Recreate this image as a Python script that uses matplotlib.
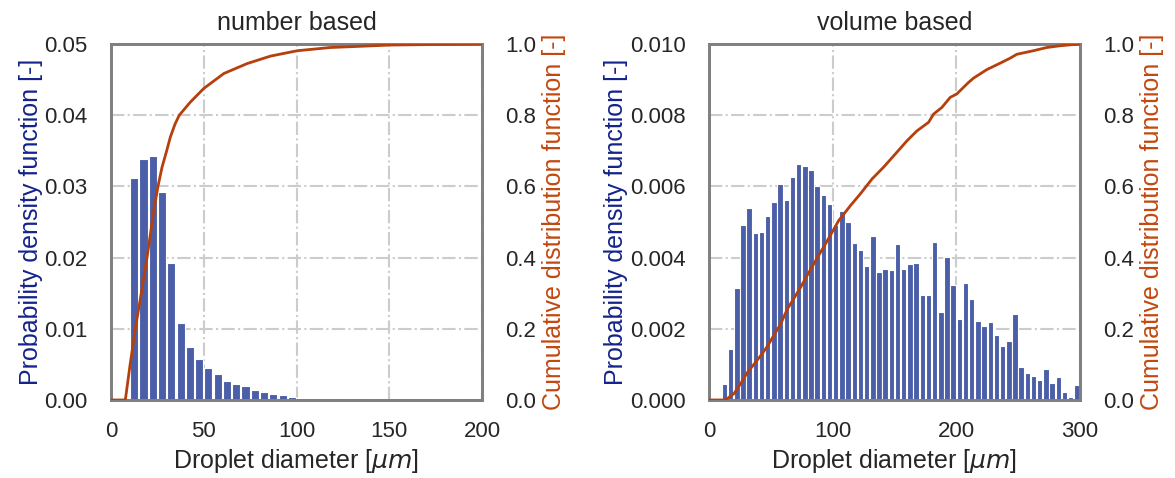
import numpy as np
import matplotlib
matplotlib.use('Agg')
import matplotlib.pyplot as plt
import seaborn as sns

sns.set_style('whitegrid')
plt.rcParams['font.family'] = ['Liberation Sans', 'DejaVu Sans']
plt.rcParams['mathtext.fontset'] = 'dejavusans'

# bins are 5 um wide, first bin 10-15 um
bin_width = 5

# number based pdf (bins 10-15, 15-20, ...)
num_pdf = [0.0312, 0.0339, 0.0343, 0.0292, 0.0193, 0.0108, 0.0074, 0.0057,
           0.0045, 0.0037, 0.0026, 0.0023, 0.0019, 0.00146, 0.00113, 0.00085,
           0.00066, 0.00047, 0.00033, 0.00026, 0.00016, 0.0001, 0.00006, 0.00004]
num_centers = 12.5 + bin_width * np.arange(len(num_pdf))

# number based cdf
num_cdf_x = [0, 7.7, 10.3, 13.1, 16.3, 19.4, 23.0, 25.3, 27.5, 30.0, 32.0, 34.5,
             36.8, 42.8, 50.0, 60.8, 73.4, 86.0, 100.4, 118.0, 150.6, 200.0]
num_cdf_y = [0, 0, 0.10, 0.20, 0.30, 0.40, 0.53, 0.60, 0.654, 0.70, 0.739, 0.775,
             0.80, 0.837, 0.875, 0.917, 0.945, 0.966, 0.981, 0.990, 0.997, 1.0]

# volume based pdf (bins 10-15 ... 295-300)
vol_pdf = [0.00044, 0.00143, 0.00314, 0.00491, 0.00538, 0.00468, 0.00472, 0.00516,
           0.00555, 0.00606, 0.00562, 0.00626, 0.00664, 0.00657, 0.00646, 0.00600,
           0.00577, 0.00551, 0.00492, 0.00530, 0.00499, 0.00442, 0.00422, 0.00376,
           0.00460, 0.00359, 0.00369, 0.00365, 0.00438, 0.00367, 0.00382, 0.00386,
           0.00295, 0.00296, 0.00445, 0.00248, 0.00402, 0.00323, 0.00228, 0.00328,
           0.00284, 0.00223, 0.00209, 0.00219, 0.00182, 0.00152, 0.00167, 0.00241,
           0.00094, 0.00076, 0.00067, 0.00056, 0.00086, 0.00049, 0.00065, 0.00023,
           0.00009, 0.00041]
vol_centers = 12.5 + bin_width * np.arange(len(vol_pdf))

# volume based cdf
vol_cdf_x = [0, 12.0, 14.8, 20.2, 25.6, 31.0, 36.3, 41.7, 47.1, 52.5, 57.9, 63.3,
             68.6, 74.0, 79.4, 84.7, 90.2, 95.6, 104.9, 114.4, 122.4, 131.9, 141.2,
             150.7, 160.1, 168.2, 177.6, 181.6, 188.4, 195.1, 200.5, 209.9, 213.9,
             224.7, 235.4, 243.5, 248.9, 262.3, 273.1, 283.9, 300.0]
vol_cdf_y = [0, 0, 0.004, 0.018, 0.046, 0.077, 0.10, 0.124, 0.150, 0.182, 0.213,
             0.255, 0.285, 0.316, 0.350, 0.382, 0.415, 0.447, 0.504, 0.546, 0.579,
             0.621, 0.654, 0.691, 0.728, 0.756, 0.780, 0.803, 0.822, 0.850, 0.860,
             0.892, 0.904, 0.928, 0.946, 0.960, 0.971, 0.981, 0.990, 0.995, 1.0]

bar_color = '#4b5ea8'
line_color = '#b5400d'
pdf_label_color = '#14238a'
cdf_label_color = '#c2480f'
spine_color = '#808080'

fig = plt.figure(figsize=(11.75, 4.78), dpi=100)
ax_l = fig.add_axes([0.0945, 0.1632, 0.3157, 0.7448])
ax_r = fig.add_axes([0.6034, 0.1632, 0.3157, 0.7448])

panels = [
    (ax_l, num_centers, num_pdf, num_cdf_x, num_cdf_y, 'number based',
     200, [0, 50, 100, 150, 200], 0.05, '%.2f'),
    (ax_r, vol_centers, vol_pdf, vol_cdf_x, vol_cdf_y, 'volume based',
     300, [0, 100, 200, 300], 0.010, '%.3f'),
]

for ax, cx, pdf, x, y, title, xmax, xticks, ymax, fmt in panels:
    ax.bar(cx, pdf, width=4.4, color=bar_color, edgecolor='white', linewidth=0.8, zorder=2)
    ax.set_xlim(0, xmax)
    ax.set_ylim(0, ymax)
    ax.set_xticks(xticks)
    ax.set_yticks(np.linspace(0, ymax, 6))
    ax.yaxis.set_major_formatter(matplotlib.ticker.FormatStrFormatter(fmt))
    ax.grid(True, linestyle='-.', color='#cccccc', linewidth=1.5)
    ax.set_axisbelow(True)
    ax.tick_params(axis='both', labelsize=16, colors='#262626', length=0)
    ax.tick_params(axis='y', pad=17)
    ax.tick_params(axis='x', pad=15)
    ax.set_xlabel('Droplet diameter [$\\mu m$]', fontsize=18, color='#262626')
    ax.set_ylabel('Probability density function [-]', fontsize=18,
                  color=pdf_label_color, labelpad=1)
    ax.set_title(title, fontsize=18, color='#262626', pad=10)

    ax2 = ax.twinx()
    ax2.plot(x, y, color=line_color, linewidth=2, zorder=3)
    ax2.set_ylim(0, 1)
    ax2.set_yticks(np.linspace(0, 1, 6))
    ax2.yaxis.set_major_formatter(matplotlib.ticker.FormatStrFormatter('%.1f'))
    ax2.grid(False)
    ax2.tick_params(axis='y', labelsize=16, colors='#262626', length=0, pad=17)
    ax2.set_ylabel('Cumulative distribution function [-]', fontsize=18,
                   color=cdf_label_color, labelpad=4)
    for a in (ax, ax2):
        for s in a.spines.values():
            s.set_color(spine_color)
            s.set_linewidth(2)

fig.savefig('out.png', dpi=100)
